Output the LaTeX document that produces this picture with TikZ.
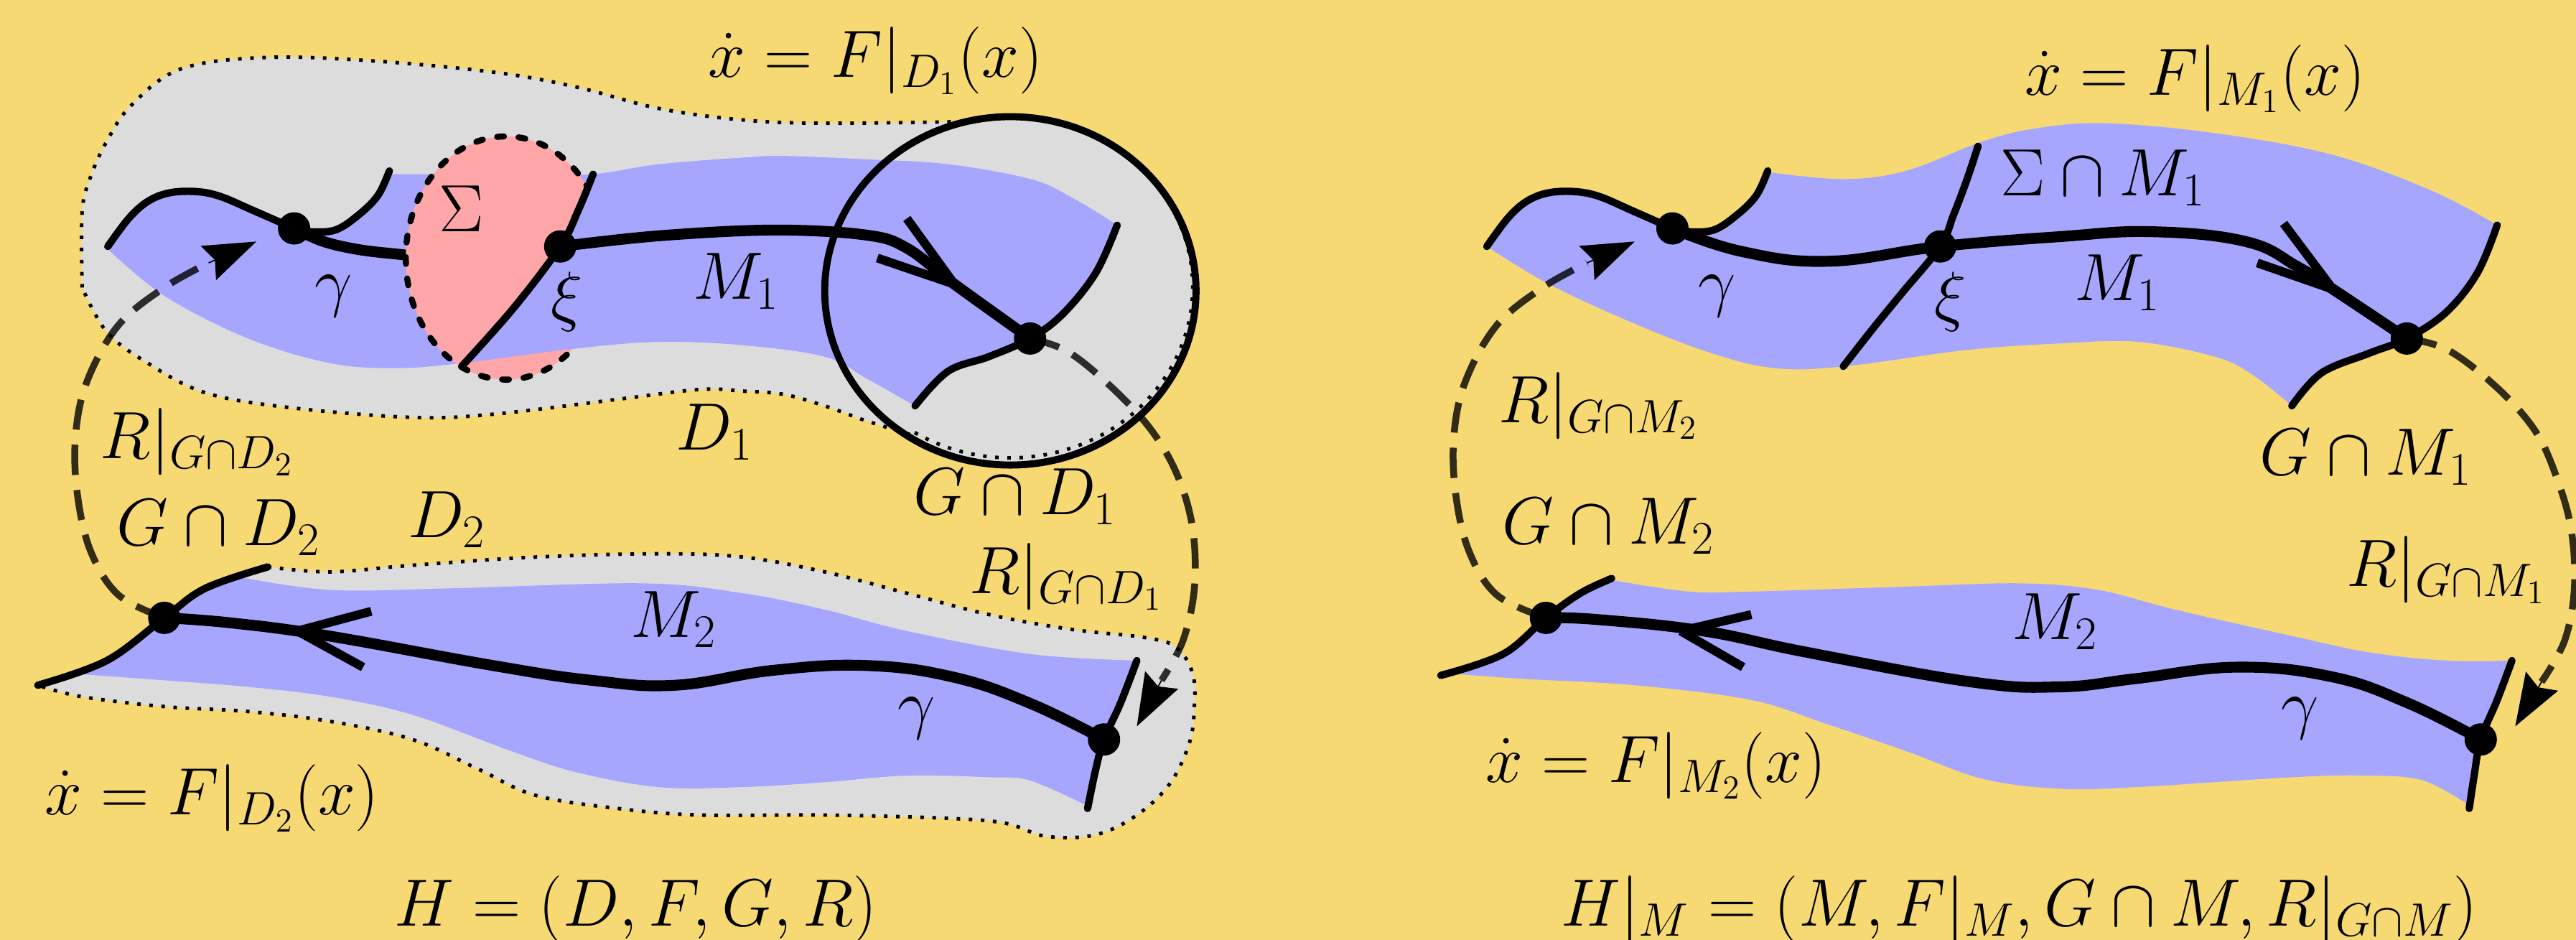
\documentclass[tikz,border=0pt]{standalone}
\usepackage{fix-cm}
\usetikzlibrary{arrows.meta}
\definecolor{bgy}{RGB}{246,217,115}
\definecolor{grayD}{RGB}{220,220,220}
\definecolor{blueM}{RGB}{166,166,255}
\definecolor{redS}{RGB}{255,166,168}
\begin{document}
\begin{tikzpicture}[x=0.02288cm, y=-0.02288cm,
  lbl/.style={inner sep=0pt, anchor=base, font=\fontsize{26.5}{31}\selectfont},
  thinl/.style={line width=2.9pt, line cap=round, line join=round},
  thickl/.style={line width=4.3pt, line join=round},
  varm/.style={line width=3.5pt},
  dotb/.style={line width=1.4pt, dash pattern=on 1.4pt off 3.4pt},
  sigd/.style={line width=2.4pt, line cap=round, dash pattern=on 2.7pt off 5.8pt},
  rdash/.style={line width=2.7pt, draw opacity=0.8, dash pattern=on 12pt off 6pt},
  rtip/.style={-{Stealth[length=0.73cm,width=0.52cm,inset=0.1cm]}, line width=0.5pt},
  dotn/.style={circle, fill=black, inner sep=0pt, minimum size=0.45cm},
  sm/.style={smooth, tension=0.6}]
\useasboundingbox (0,0) rectangle (1568,572);
\fill[bgy] (0,0) rectangle (1568,572);

% ---------- key points ----------
\coordinate (La) at (179,139);
\coordinate (Lx) at (341,150);
\coordinate (Lb) at (627,206);
\coordinate (Lc) at (100,376);
\coordinate (Ld) at (672,450);
\coordinate (Ra) at (1018,139);
\coordinate (Rx) at (1181,150);
\coordinate (Rb) at (1465,206);
\coordinate (Rc) at (941,376);
\coordinate (Rd) at (1510,450);

% ================= LEFT PANEL =================
% circle interior
\fill[grayD] (615,177) ellipse [x radius=113, y radius=106];
% D1
\filldraw[fill=grayD, draw=black, dotb]
  plot[sm] coordinates {(50,175) (50,129) (55,108) (65,86) (80,64) (110,42) (161,35) (226,37) (301,44) (351,53) (401,66) (452,73) (502,75) (587,74)}
  arc[start angle=-104.6, end angle=122, x radius=111, y radius=104]
  -- plot[sm] coordinates {(556,265) (527,256) (502,247) (477,240) (452,238) (426,237) (376,243) (301,252) (251,254) (176,248) (125,239) (90,221) (65,202) (50,175)} -- cycle;
% D2
\fill[grayD]
  plot[sm] coordinates {(163,345) (201,348) (251,344) (326,339) (401,337) (452,339) (502,348) (552,361) (602,374) (652,383) (697,388) (716,394) (726,410) (727,430) (724,452) (712,477) (692,496) (667,508) (637,509) (612,501) (577,498) (502,496) (426,496) (376,492) (326,484) (291,468) (251,450) (201,439) (151,433) (100,430) (50,424) (23,417)}
  -- plot[sm] coordinates {(23,417) (65,402) (100,376) (125,358) (163,345)} -- cycle;
\draw[dotb]
  plot[sm] coordinates {(163,345) (201,348) (251,344) (326,339) (401,337) (452,339) (502,348) (552,361) (602,374) (652,383) (697,388) (716,394) (726,410) (727,430) (724,452) (712,477) (692,496) (667,508) (637,509) (612,501) (577,498) (502,496) (426,496) (376,492) (326,484) (291,468) (251,450) (201,439) (151,433) (100,430) (50,424) (23,417)};
% M1 (left)
\fill[blueM]
  plot[sm] coordinates {(65,151) (79,132) (90,122) (103,117) (120,117) (134,120) (154,128) (179,139)}
  -- plot[sm] coordinates {(179,139) (188,141) (204,140) (218,131) (230,119) (237,104)}
  -- plot[sm] coordinates {(239,106) (273,106) (320,106) (361,106) (401,100) (452,96) (477,95) (527,97) (577,100) (627,109) (652,120) (680,137)}
  -- plot[sm] coordinates {(680,137) (667,166) (647,191) (627,206) (602,217) (577,226) (557,247)}
  -- plot[sm] coordinates {(557,247) (527,230) (502,217) (452,210) (401,208) (351,212) (281,221) (241,224) (201,221) (151,206) (100,180) (65,151)} -- cycle;
% M2 (left)
\fill[blueM]
  plot[sm] coordinates {(145,351) (201,359) (276,358) (391,355) (452,361) (502,371) (552,384) (627,398) (692,402)}
  -- plot[sm] coordinates {(692,402) (682,428) (672,450) (667,468) (661,490)}
  -- plot[sm] coordinates {(661,490) (627,475) (602,473) (552,472) (502,476) (452,479) (401,479) (351,470) (311,457) (251,435) (201,424) (151,418) (100,414) (45,410)}
  -- plot[sm] coordinates {(45,410) (65,402) (100,376) (125,358) (145,351)} -- cycle;
% gamma part hidden by Sigma
\draw[thickl] plot[sm] coordinates {(La) (197,147) (219,152) (245,155) (262,157)};
% Sigma disc
\filldraw[fill=redS, draw=black, sigd] (308,157) ellipse [x radius=61, y radius=74];
% blue again right of the section line
\begin{scope}
\clip plot[sm] coordinates {(373,80) (361,106) (352,128) (341,150) (313,187) (281,223) (263,245)} -- (263,300) -- (760,300) -- (760,40) -- (373,40) -- cycle;
\fill[blueM]
  plot[sm] coordinates {(239,106) (273,106) (320,106) (361,106) (401,100) (452,96) (477,95) (527,97) (577,100) (627,109) (652,120) (680,137)}
  -- plot[sm] coordinates {(680,137) (667,166) (647,191) (627,206) (602,217) (577,226) (557,247)}
  -- plot[sm] coordinates {(557,247) (527,230) (502,217) (452,210) (401,208) (351,212) (281,221) (241,224) (201,221)} -- cycle;
\end{scope}
% circle outline
\draw[line width=2.8pt] (615,177) ellipse [x radius=113, y radius=106];
% thin boundary curves
\draw[thinl] plot[sm] coordinates {(65.6,150) (78.7,132.5) (90.4,122.3) (103.4,117.3) (119.5,116.6) (134,119.5) (154.4,128.2) (La)};
\draw[thinl] plot[sm] coordinates {(La) (188,141) (204,140) (218,131) (230,119) (237,104)};
\draw[thinl] plot[sm] coordinates {(680,137) (667,166) (647,191) (Lb) (602,217) (577,226) (557,247)};
\draw[thinl] plot[sm] coordinates {(361,106) (352,128) (Lx) (313,187) (281,223)};
\draw[thinl] plot[sm] coordinates {(23,417) (65,402) (Lc) (125,358) (163,345)};
\draw[thinl] plot[sm] coordinates {(692,402) (682,428) (Ld) (667,468) (662,492)};
% gamma
\draw[thickl] plot[sm] coordinates {(Lx) (401,143.5) (471,140) (527,143) (552,151) (581,173) (Lb)};
\draw[thickl] plot[smooth, tension=0.7] coordinates {(Ld) (627,428) (580,412) (527,405) (470,408) (411,417) (360,414) (300,405) (200,387) (140,379) (Lc)};
% flow arrows
\draw[varm] (581,173) -- (552,133);
\draw[varm] (581,173) -- (534,157);
\draw[varm] (181,384) -- (226,372);
\draw[varm] (181,384) -- (221,406);
% reset maps
\draw[rdash] plot[sm] coordinates {(Lc) (72,362) (55,335) (47,300) (46,265) (53,232) (72,198) (100,175) (127,160)};
\draw[rtip] (127,160) -- (156,147);
\draw[rdash] plot[sm] coordinates {(Lb) (650,214) (677,236) (701,262) (717,290) (726,322) (727,358) (720,390) (707,414)};
\draw[rtip] (707,414) -- (692,442);
% dots
\node[dotn] (nLa) at (La) {};
\node[dotn] (nLx) at (Lx) {};
\node[dotn] (nLb) at (Lb) {};
\node[dotn] (nLc) at (Lc) {};
\node[dotn] (nLd) at (Ld) {};
% labels
\node[lbl] (tL1) at (533,47) {$\dot{x} = F|_{D_1}(x)$};
\node[lbl] (tL2) at (281,141) {$\Sigma$};
\node[lbl] (tL3) at (203,185) {$\gamma$};
\node[lbl] (tL4) at (345,194) {$\xi$};
\node[lbl] (tL5) at (448,182) {$M_1$};
\node[lbl] (tL6) at (435,274) {$D_1$};
\node[lbl] (tL7) at (120,279) {$R|_{G\cap D_2}$};
\node[lbl] (tL8) at (133,332) {$G\cap D_2$};
\node[lbl] (tL9) at (272,327) {$D_2$};
\node[lbl] (tL10) at (618,313) {$G\cap D_1$};
\node[lbl] (tL11) at (649,361) {$R|_{G\cap D_1}$};
\node[lbl] (tL12) at (410,388) {$M_2$};
\node[lbl] (tL13) at (558,442) {$\gamma$};
\node[lbl] (tL14) at (129,496) {$\dot{x} = F|_{D_2}(x)$};
\node[lbl] (tL15) at (387,563.5) {$H = (D, F, G, R)$};

% ================= RIGHT PANEL =================
% M1 (right)
\fill[blueM]
  plot[sm] coordinates {(905,150) (918,132.5) (929.6,122.3) (942.7,117.3) (958.5,116.6) (973.3,119.5) (993.5,128.2) (1018,139)}
  -- plot[sm] coordinates {(1018,139) (1027,141) (1043,140) (1057,131) (1069,119) (1076,104)}
  -- plot[sm] coordinates {(1078,105) (1122,109) (1160,104) (1207,86) (1240,78) (1282,75) (1348,81) (1419,94) (1480,116) (1520,137)}
  -- plot[sm] coordinates {(1520,137) (1508,166) (1489,190) (1465,206) (1442,215) (1413,227) (1395,247)}
  -- plot[sm] coordinates {(1395,247) (1371,228) (1348,217) (1301,208) (1254,209) (1197,213) (1122,223) (1080,224) (1042,215) (995,197) (943,173) (905,150)} -- cycle;
% M2 (right)
\fill[blueM]
  plot[sm] coordinates {(981,353) (1028,360) (1066,360) (1160,357) (1230,355) (1277,359) (1324,371) (1395,387) (1442,397) (1489,402) (1529,402)}
  -- plot[sm] coordinates {(1529,402) (1520,426) (1510,450) (1506,472) (1503,490)}
  -- plot[sm] coordinates {(1503,490) (1475,475) (1442,472) (1395,473) (1301,479) (1254,480) (1207,474) (1160,457) (1113,441) (1066,426) (995,417) (925,413) (885,410)}
  -- plot[sm] coordinates {(885,410) (915,398) (941,376) (962,361) (981,353)} -- cycle;
% thin boundary curves
\draw[thinl] plot[sm] coordinates {(905,150) (918,132.5) (929.6,122.3) (942.7,117.3) (958.5,116.6) (973.3,119.5) (993.5,128.2) (Ra)};
\draw[thinl] plot[sm] coordinates {(Ra) (1027,141) (1043,140) (1057,131) (1069,119) (1076,104)};
\draw[thinl] plot[sm] coordinates {(1520,137) (1508,166) (1489,190) (Rb) (1442,215) (1413,227) (1395,247)};
\draw[thinl] plot[sm] coordinates {(1204,89) (1197,110) (1189,131) (Rx) (1158,178) (1140,200) (1122,223)};
\draw[thinl] plot[sm] coordinates {(877,411) (915,398) (Rc) (962,361) (981,352)};
\draw[thinl] plot[sm] coordinates {(1529,402) (1520,426) (Rd) (1506,472) (1503,492)};
% gamma
\draw[thickl] plot[smooth, tension=0.7] coordinates {(Ra) (1060,153) (1113,159) (Rx) (1254,144) (1310,141) (1367,147) (1398,162) (1420,176) (Rb)};
\draw[thickl] plot[smooth, tension=0.7] coordinates {(Rd) (1466,428) (1420,412) (1362,406) (1300,413) (1254,418) (1200,415) (1100,397) (1037,384) (972,377) (Rc)};
% flow arrows
\draw[varm] (1420,176) -- (1390,136);
\draw[varm] (1420,176) -- (1374,160);
\draw[varm] (1023,384) -- (1066,374);
\draw[varm] (1023,384) -- (1061,406);
% reset maps
\draw[rdash] plot[sm] coordinates {(Rc) (911,362) (894,335) (886,300) (885,265) (892,232) (911,198) (939,175) (966,160)};
\draw[rtip] (966,160) -- (995,147);
\draw[rdash] plot[sm] coordinates {(Rb) (1490,213) (1520,236) (1543,262) (1556,290) (1565,322) (1567,358) (1561,390) (1547,415)};
\draw[rtip] (1547,415) -- (1531,442);
% dots
\node[dotn] (nRa) at (Ra) {};
\node[dotn] (nRx) at (Rx) {};
\node[dotn] (nRb) at (Rb) {};
\node[dotn] (nRc) at (Rc) {};
\node[dotn] (nRd) at (Rd) {};
% labels
\node[lbl] (tR1) at (1336,58) {$\dot{x} = F|_{M_1}(x)$};
\node[lbl] (tR2) at (1280,119) {$\Sigma\cap M_1$};
\node[lbl] (tR3) at (1045,185) {$\gamma$};
\node[lbl] (tR4) at (1187,194) {$\xi$};
\node[lbl] (tR5) at (1289,183) {$M_1$};
\node[lbl] (tR6) at (973,257) {$R|_{G\cap M_2}$};
\node[lbl] (tR7) at (1440,289) {$G\cap M_1$};
\node[lbl] (tR8) at (979,331) {$G\cap M_2$};
\node[lbl] (tR9) at (1489,357) {$R|_{G\cap M_1}$};
\node[lbl] (tR10) at (1251,389) {$M_2$};
\node[lbl] (tR11) at (1400,442) {$\gamma$};
\node[lbl] (tR12) at (1008,476) {$\dot{x} = F|_{M_2}(x)$};
\node[lbl] (tR13) at (1229,563.5) {$H|_M = (M, F|_M, G\cap M, R|_{G\cap M})$};
\end{tikzpicture}
\end{document}
